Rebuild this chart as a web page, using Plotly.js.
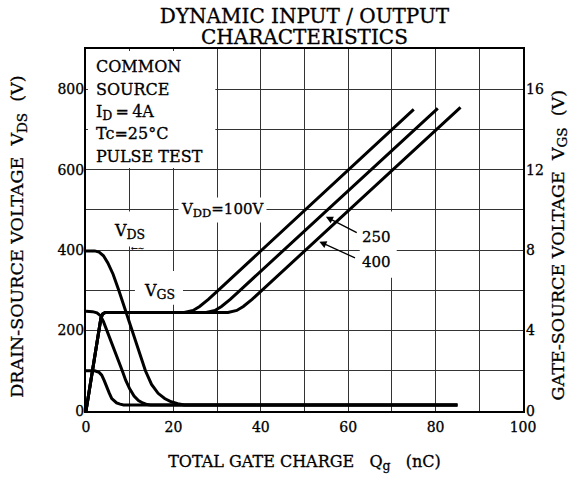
<!DOCTYPE html>
<html>
<head>
<meta charset="utf-8">
<script src="https://cdn.plot.ly/plotly-3.0.1.min.js"></script>
<style>
html,body{margin:0;padding:0;background:#fff;}
#chart{width:568px;height:478px;}
#chart svg text{stroke:#000;stroke-width:0.3px;}
</style>
</head>
<body>
<div id="chart"></div>
<script>
// ---- Data (gate charge Qg in nC) ----
// Drain-source voltage VDS (V), left axis
const vdsQ100 = [0, 2.0, 3.0, 3.6, 4.2, 4.7, 5.3, 5.9, 6.5, 7.0, 7.8, 8.6, 85];
const vds100  = [100, 100, 96, 89, 75, 60, 45, 31, 24, 20, 17, 15, 15];
const vdsQ250 = [0, 1.5, 2.5, 3.3, 4.0, 4.8, 5.6, 6.5, 7.4, 8.3, 9.1, 10, 11, 12, 13, 14, 14.8, 85];
const vds250  = [248, 247, 244, 237, 222, 200, 177, 151, 126, 100, 76, 55, 37, 26, 20, 16, 15, 15];
const vdsQ400 = [0, 2, 3, 4, 5, 6.2, 7.5, 9, 10.5, 12, 13.6, 15, 16.5, 18, 19.5, 21, 22.5, 85];
const vds400  = [398, 398, 395, 386, 368, 340, 300, 250, 200, 150, 100, 66, 44, 31, 23, 18, 15, 15];
// Gate-source voltage VGS (V), right axis
const vgsQ100 = [0, 3.4, 3.8, 4.4, 22.5, 24.5, 26, 28, 30, 75];
const vgs100  = [0, 4.6, 4.82, 4.9, 4.9, 5.0, 5.2, 5.55, 5.95, 15.0];
const vgsQ250 = [0, 3.4, 3.8, 4.4, 27.5, 29.5, 31, 33, 35, 80.5];
const vgs250  = [0, 4.6, 4.82, 4.9, 4.9, 5.0, 5.2, 5.55, 5.95, 15.05];
const vgsQ400 = [0, 3.4, 3.8, 4.4, 32.5, 34.5, 36, 38, 40, 85.7];
const vgs400  = [0, 4.6, 4.82, 4.9, 4.9, 5.0, 5.2, 5.55, 5.95, 15.1];
// Tick labels
const xTicks  = [0, 20, 40, 60, 80, 100];
const yTicks  = [0, 200, 400, 600, 800];
const y2Ticks = [0, 4, 8, 12, 16];
const conditionLines = ['COMMON', 'SOURCE', 'I<sub><span style="font-size:12.5px">D</span></sub>\u2009=\u20094A', 'Tc=25\u00b0C', 'PULSE TEST'];
const conditionY = [857, 800, 741, 689, 633];

const FONT = 'DejaVu Serif, serif';
const line = {color: '#000', width: 3};

const traces = [
  {x: vdsQ100, y: vds100, name: 'VDS 100V', yaxis: 'y'},
  {x: vdsQ250, y: vds250, name: 'VDS 250V', yaxis: 'y'},
  {x: vdsQ400, y: vds400, name: 'VDS 400V', yaxis: 'y'},
  {x: vgsQ100, y: vgs100, name: 'VGS 100V', yaxis: 'y2'},
  {x: vgsQ250, y: vgs250, name: 'VGS 250V', yaxis: 'y2'},
  {x: vgsQ400, y: vgs400, name: 'VGS 400V', yaxis: 'y2'}
].map(t => Object.assign({type: 'scatter', mode: 'lines', line: line, hoverinfo: 'skip'}, t));

// white patches that break the grid behind the printed labels
function whiteRect(x0, x1, y0, y1) {
  return {type: 'rect', xref: 'x', yref: 'y', x0: x0, x1: x1, y0: y0, y1: y1,
          fillcolor: '#fff', line: {width: 0}, layer: 'above'};
}
const shapes = [
  whiteRect(0.45, 29.6, 604, 895),
  whiteRect(5.5, 14.5, 409, 496),
  whiteRect(11.2, 22.2, 265, 348),
  whiteRect(62.7, 71.1, 331, 496)
];

function label(text, x, y, size, xanchor) {
  return {xref: 'x', yref: 'y', x: x, y: y, text: text, showarrow: false,
          xanchor: xanchor || 'center', yanchor: 'middle',
          font: {family: FONT, size: size || 16, color: '#000'}, bgcolor: '#fff', borderpad: 2};
}
function sub(t, px) { return '<sub><span style="font-size:' + px + 'px">' + t + '</span></sub>'; }

const annotations = [];
conditionLines.forEach((t, i) => {
  const a = label(t, 2.06, conditionY[i], 16, 'left');
  a.bgcolor = 'rgba(0,0,0,0)'; a.borderpad = 0;
  annotations.push(a);
});
annotations.push(label('V' + sub('DD', 11.5) + '=100V', 31.2, 500, 15));
annotations.push(label('V' + sub('DS', 12.5), 9.9, 447, 16));
annotations.push(label('V' + sub('GS', 12.5), 16.8, 298, 16));
annotations.push(label('250', 66.5, 433, 15));
annotations.push(label('400', 66.5, 371, 15));
annotations.push({xref: 'x', yref: 'y', x: 11.7, y: 403.5, text: '\u2190\u223c', showarrow: false,
                  font: {family: FONT, size: 8, color: '#333'}});
annotations.push({xref: 'x', yref: 'y', x: 54.9, y: 483, axref: 'x', ayref: 'y', ax: 62.3, ay: 441.5,
                  text: '', showarrow: true, arrowhead: 2, arrowsize: 1.1, arrowwidth: 1.3, arrowcolor: '#000',
                  standoff: 0, startstandoff: 0});
annotations.push({xref: 'x', yref: 'y', x: 53.4, y: 421, axref: 'x', ayref: 'y', ax: 61.9, ay: 379,
                  text: '', showarrow: true, arrowhead: 2, arrowsize: 1.1, arrowwidth: 1.3, arrowcolor: '#000',
                  standoff: 0, startstandoff: 0});
// second title line and vertical axis titles
annotations.push({xref: 'paper', yref: 'paper', x: 0.5, y: (411 - 37) / 362, text: 'CHARACTERISTICS',
                  showarrow: false, xanchor: 'center', yanchor: 'middle', font: {family: FONT, size: 20, color: '#000'}});
annotations.push({xref: 'paper', yref: 'paper', x: (19 - 86) / 437, y: (411 - 236.7) / 362, textangle: -90,
                  text: 'DRAIN-SOURCE VOLTAGE\u00a0\u00a0V' + sub('DS', 13.5) + '\u00a0\u00a0(V)', showarrow: false,
                  xanchor: 'center', yanchor: 'middle', font: {family: FONT, size: 17.5, color: '#000'}});
annotations.push({xref: 'paper', yref: 'paper', x: (559.5 - 86) / 437, y: (411 - 245) / 362, textangle: -90,
                  text: 'GATE-SOURCE VOLTAGE\u00a0\u00a0V' + sub('GS', 13.5) + '\u00a0\u00a0(V)', showarrow: false,
                  xanchor: 'center', yanchor: 'middle', font: {family: FONT, size: 17.5, color: '#000'}});

const grid = {showgrid: true, gridcolor: '#333', gridwidth: 1};
const layout = {
  width: 568, height: 478,
  margin: {l: 86, r: 45, t: 49, b: 67, pad: 0},
  paper_bgcolor: '#fff', plot_bgcolor: '#fff',
  font: {family: FONT, color: '#000'},
  showlegend: false,
  title: {text: 'DYNAMIC INPUT / OUTPUT', font: {family: FONT, size: 20, color: '#000'},
          xref: 'paper', x: 0.5, xanchor: 'center', yref: 'container', y: 1 - 15.5 / 478, yanchor: 'middle'},
  xaxis: Object.assign({
    range: [0, 100], tickmode: 'array', tickvals: xTicks, ticktext: xTicks.map(String), ticks: '',
    minor: Object.assign({dtick: 10, tick0: 0, ticks: ''}, grid),
    showline: true, linecolor: '#000', linewidth: 2, mirror: true, zeroline: false,
    tickfont: {family: FONT, size: 14, color: '#000'}, ticklabelstandoff: 2,
    title: {text: 'TOTAL GATE CHARGE\u00a0\u00a0\u00a0Q' + sub('g', 12.5) + '\u00a0\u00a0\u00a0(nC)',
            font: {family: FONT, size: 16, color: '#000'}, standoff: 22},
    fixedrange: true
  }, grid),
  yaxis: Object.assign({
    range: [0, 900], tickmode: 'array', tickvals: yTicks, ticktext: yTicks.map(String), ticks: '',
    minor: Object.assign({dtick: 100, tick0: 0, ticks: ''}, grid),
    showline: true, linecolor: '#000', linewidth: 2, mirror: true, zeroline: false,
    tickfont: {family: FONT, size: 14, color: '#000'}, ticklabelstandoff: -3,
    fixedrange: true
  }, grid),
  yaxis2: {
    range: [0, 18], overlaying: 'y', side: 'right', tickmode: 'array', tickvals: y2Ticks,
    ticktext: y2Ticks.map(String), ticks: '', showgrid: false, zeroline: false, showline: false,
    tickfont: {family: FONT, size: 14, color: '#000'}, ticklabelstandoff: 2, fixedrange: true
  },
  shapes: shapes,
  annotations: annotations
};

Plotly.newPlot('chart', traces, layout, {displayModeBar: false, staticPlot: true});
</script>
</body>
</html>
